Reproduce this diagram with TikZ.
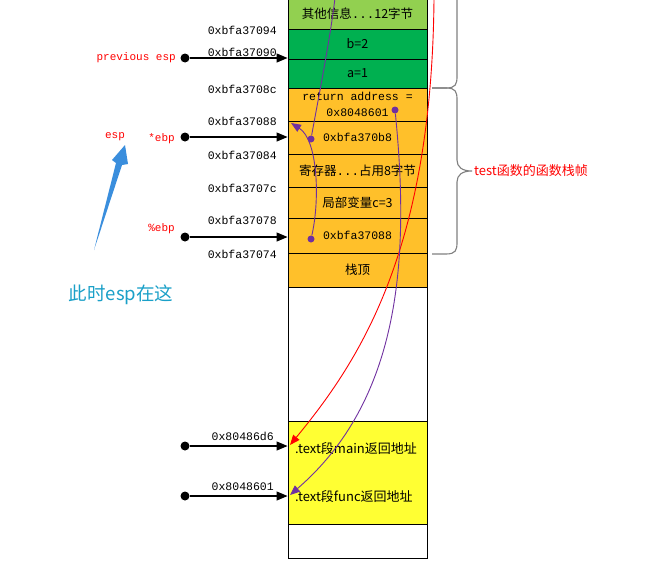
\documentclass[tikz,border=0pt]{standalone}
\usepackage{fontspec}
\setmainfont{Noto Sans CJK SC}
\newfontfamily\monofont{Liberation Mono}
\usetikzlibrary{arrows.meta}

\definecolor{lgreen}{RGB}{146,208,80}
\definecolor{dgreen}{RGB}{0,176,80}
\definecolor{frame}{RGB}{255,192,42}
\definecolor{textseg}{RGB}{255,255,51}
\definecolor{ptrpurple}{RGB}{112,48,160}
\definecolor{espblue}{RGB}{58,142,221}
\definecolor{notecyan}{RGB}{26,160,200}
\definecolor{bracegray}{RGB}{128,128,128}

\tikzset{
  row/.style={draw,line width=0.9pt,minimum width=139pt,inner sep=0pt,font=\fontsize{12.5}{14}\selectfont},
  addr/.style={anchor=east,inner sep=0pt,font=\monofont\fontsize{11.5}{13}\selectfont},
  reg/.style={anchor=east,inner sep=0pt,text=red,font=\monofont\fontsize{11}{13}\selectfont},
  ptr/.style={line width=1.1pt,-{Triangle[length=11pt,width=9pt]}},
  dot/.style={circle,fill=black,inner sep=0pt,minimum size=9pt},
  pdot/.style={circle,fill=ptrpurple,inner sep=0pt,minimum size=7pt},
  link/.style={line width=0.9pt,-{Triangle[length=10pt,width=8pt]}},
}

\begin{document}
\begin{tikzpicture}[x=1pt,y=-1pt]
  \useasboundingbox (0,0) rectangle (668,570);
  \clip (0,0) rectangle (668,570);
  \fill[white] (0,0) rectangle (668,570);

  % stack cells
  \node[row,fill=lgreen,minimum height=30pt] (r0) at (357.5,14) {其他信息{\monofont ...}12字节};
  \node[row,fill=dgreen,minimum height=30pt] (r1) at (357.5,44) {b=2};
  \node[row,fill=dgreen,minimum height=29pt] (r2) at (357.5,73.5) {a=1};
  \node[row,fill=frame,minimum height=33pt,align=center,font=\monofont\fontsize{11.5}{16}\selectfont] (r3) at (357.5,104.5) {return address =\\0x8048601};
  \node[row,fill=frame,minimum height=33pt,font=\monofont\fontsize{11.5}{13}\selectfont] (r4) at (357.5,137.5) {0xbfa370b8};
  \node[row,fill=frame,minimum height=33pt] (r5) at (357.5,170.5) {寄存器{\monofont ...}占用8字节};
  \node[row,fill=frame,minimum height=31pt] (r6) at (357.5,202.5) {局部变量c=3};
  \node[row,fill=frame,minimum height=35pt,font=\monofont\fontsize{11.5}{13}\selectfont] (r7) at (357.5,235.5) {0xbfa37088};
  \node[row,fill=frame,minimum height=34pt] (r8) at (357.5,270) {栈顶};
  \node[row,minimum height=134pt] (r9) at (357.5,354) {};
  \node[row,fill=textseg,minimum height=103pt] (r10) at (357.5,472.5) {};
  \node[row,minimum height=34pt] (r11) at (357.5,541) {};
  \node[anchor=west,inner sep=0pt,font=\fontsize{13}{15}\selectfont] (mainret) at (295,449) {.text段main返回地址};
  \node[anchor=west,inner sep=0pt,font=\fontsize{13}{15}\selectfont] (funcret) at (295,497) {.text段func返回地址};

  % addresses
  \node[addr] (a94) at (277,30) {0xbfa37094};
  \node[addr] (a90) at (277,52) {0xbfa37090};
  \node[addr] (a8c) at (277,89) {0xbfa3708c};
  \node[addr] (a88) at (277,121) {0xbfa37088};
  \node[addr] (a84) at (277,155) {0xbfa37084};
  \node[addr] (a7c) at (277,188) {0xbfa3707c};
  \node[addr] (a78) at (277,220) {0xbfa37078};
  \node[addr] (a74) at (277,254) {0xbfa37074};
  \node[addr] (ad6) at (274,436) {0x80486d6};
  \node[addr] (a01) at (274,487) {0x8048601};

  % pointers
  \node[dot] (p1) at (185,58) {};
  \node[dot] (p2) at (185,137) {};
  \node[dot] (p3) at (185,237) {};
  \node[dot] (p4) at (185,446) {};
  \node[dot] (p5) at (185,496) {};
  \draw[ptr] (p1) -- (p1 -| r1.west);
  \draw[ptr] (p2) -- (p2 -| r4.west);
  \draw[ptr] (p3) -- (p3 -| r7.west);
  \draw[ptr] (p4) -- (p4 -| r10.west);
  \draw[ptr] (p5) -- (p5 -| r10.west);
  \node[reg] (prevesp) at (176,58) {previous esp};
  \node[reg] (starebp) at (175,139) {*ebp};
  \node[reg] (pctebp) at (175,229) {\%ebp};
  \node[reg,anchor=center] (esp) at (115,137) {esp};

  % esp arrow and note
  \fill[espblue] (94,250) -- (116,163) -- (112,160) -- (125,145) -- (128,164) -- (122,165) -- cycle;
  \node[text=notecyan,font=\fontsize{18.5}{21}\selectfont] (note) at (121,295) {此时esp在这};

  % braces
  \draw[bracegray,line width=1.1pt] (432,88) -- (446,88) .. controls (456,88) and (457,84) .. (457,76) -- (457,-5);
  \draw[bracegray,line width=1.1pt] (432,88) -- (446,88) .. controls (456,88) and (457,92) .. (457,100)
    -- (457,160) .. controls (457,167) and (462,171) .. (472,171)
    .. controls (462,171) and (457,175) .. (457,182) -- (457,242)
    .. controls (457,250) and (456,254) .. (446,254) -- (432,254);
  \node[anchor=west,inner sep=0pt,text=red,font=\fontsize{13}{15}\selectfont] (framelbl) at (474,171) {test函数的函数栈帧};

  % links between cells
  \coordinate (redfrom) at (434,-2);
  \coordinate (redto) at (290,445);
  \coordinate (upto) at (335,-2);
  \coordinate (ebpto) at (291,123);
  \coordinate (functo) at (290,495);
  \draw[link,red] (redfrom) .. controls (432,250) and (360,360) .. (redto);
  \node[pdot] (d1) at (395,110) {};
  \node[pdot] (d2) at (311,139) {};
  \node[pdot] (d3) at (311,239) {};
  \draw[link,ptrpurple] (d1) .. controls (410,260) and (400,400) .. (functo);
  \draw[line width=0.9pt,ptrpurple] (d2) .. controls (318,100) and (330,40) .. (upto);
  \draw[link,ptrpurple] (d3) .. controls (320,200) and (318,140) .. (ebpto);
\end{tikzpicture}
\end{document}
